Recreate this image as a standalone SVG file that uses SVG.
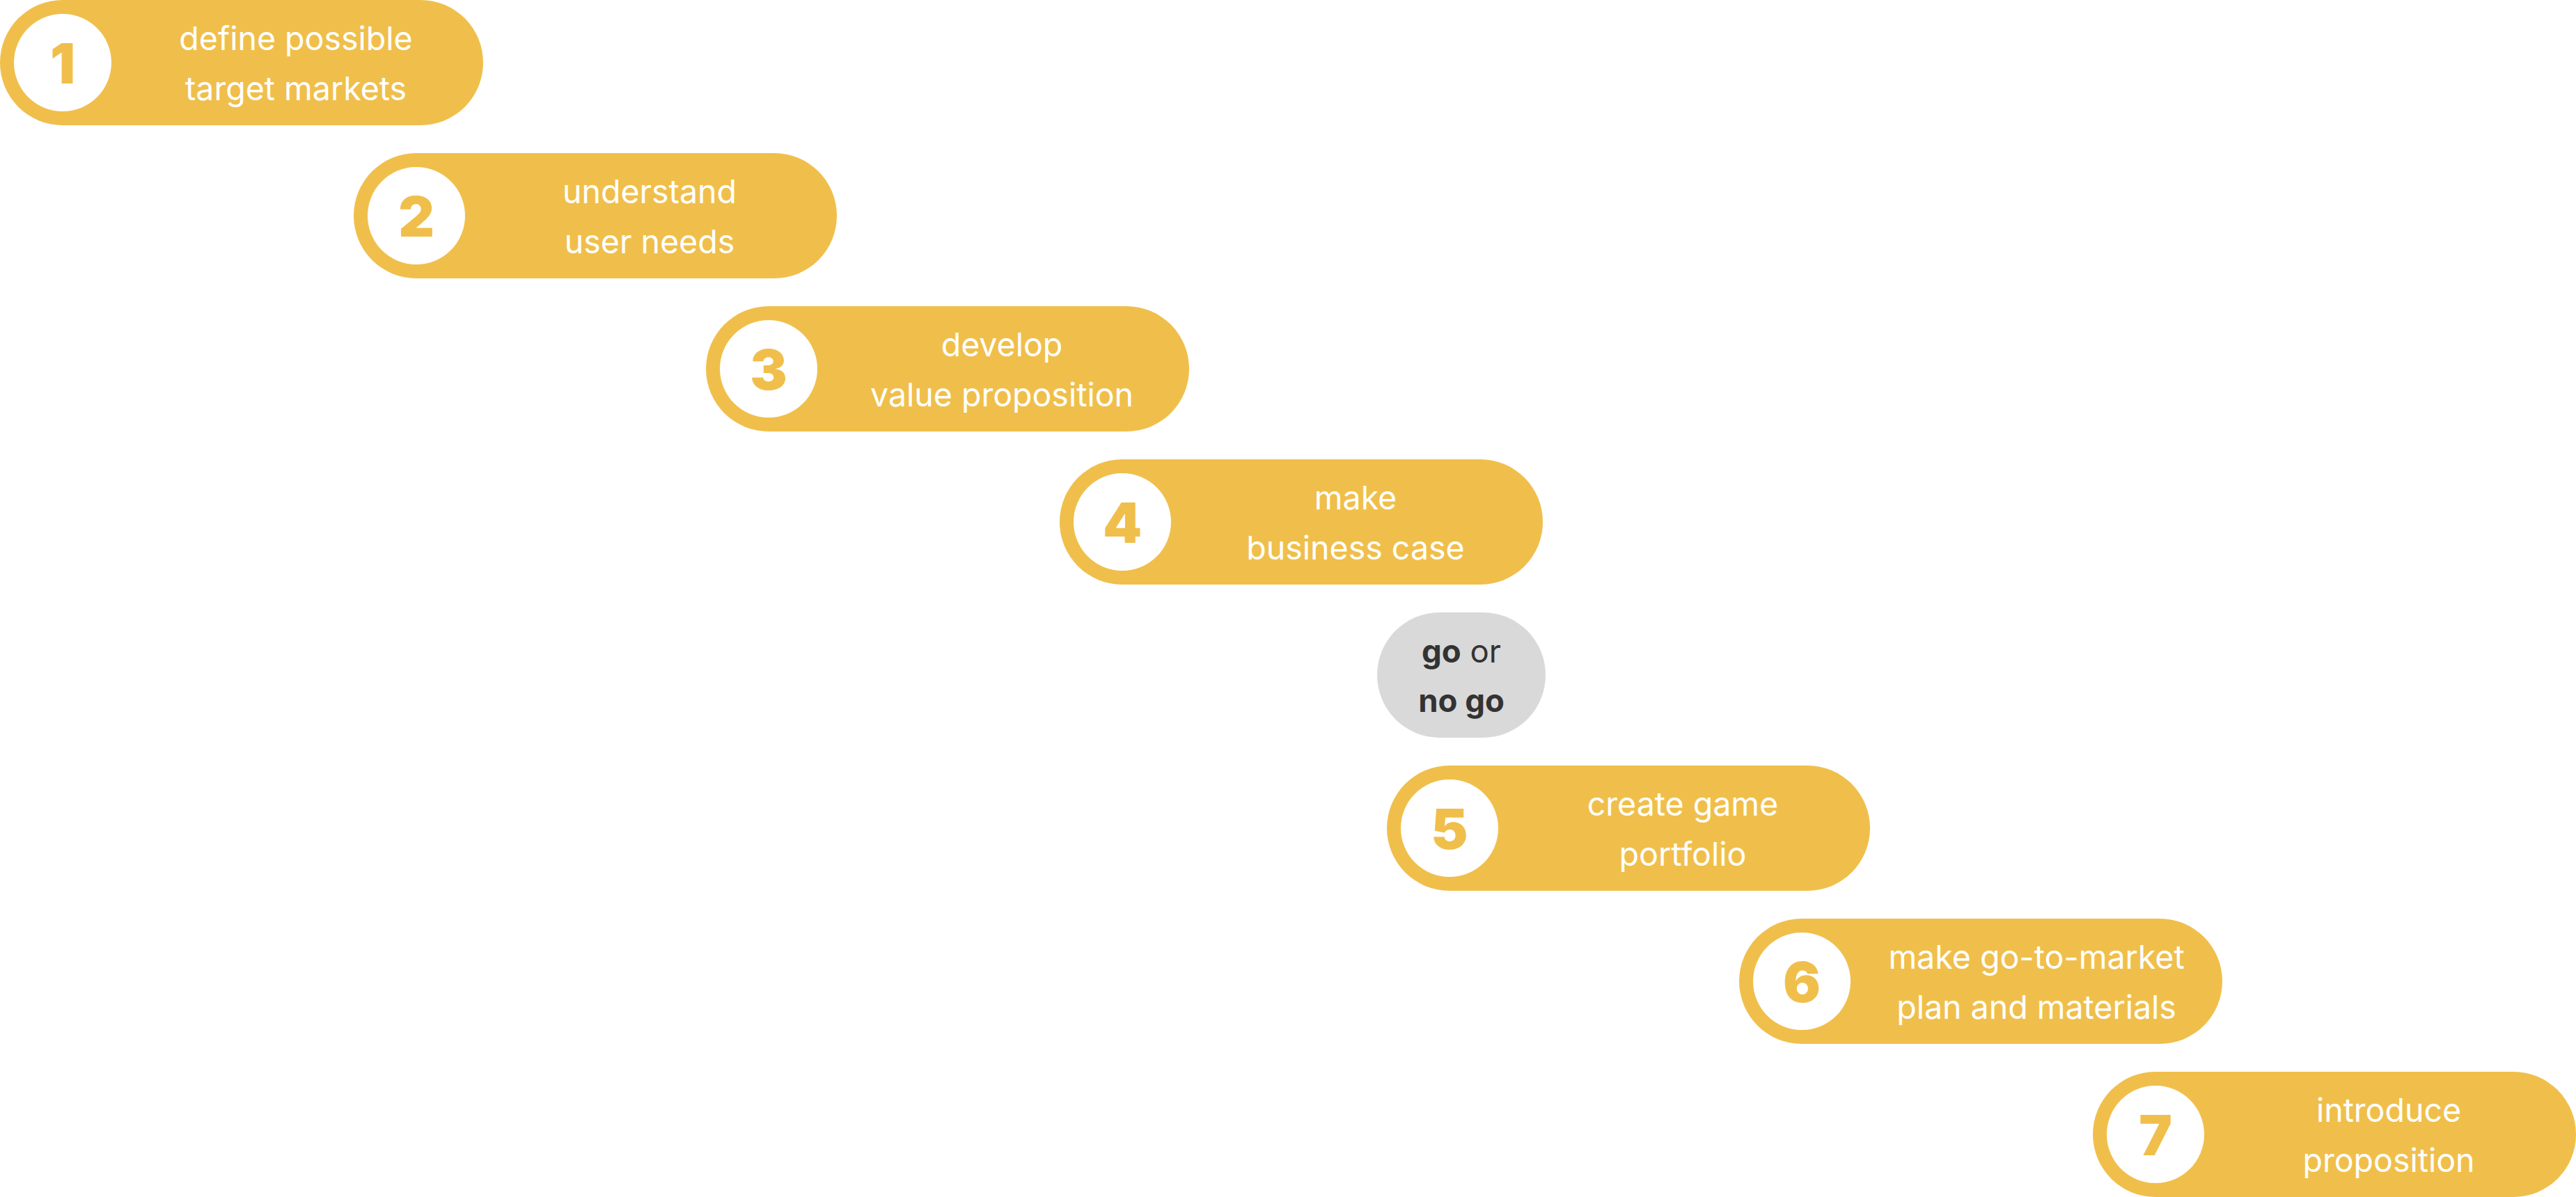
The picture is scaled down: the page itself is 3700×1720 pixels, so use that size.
<svg xmlns="http://www.w3.org/2000/svg" width="3700" height="1720" viewBox="0 0 3700 1720">
<defs>
<style>
.pill{fill:#F0BF4B}
.disc{fill:#FFFFFF}
.num{font-family:Inter,"Liberation Sans",sans-serif;font-weight:900;font-size:80px;fill:#F0BF4B;text-anchor:middle}
.lbl{font-family:Inter,"Liberation Sans",sans-serif;font-weight:400;font-size:46.5px;fill:#FFFFFF;text-anchor:middle}
.gate{fill:#D9D9D9}
.gtxt{font-family:Inter,"Liberation Sans",sans-serif;font-size:45.5px;fill:#333333;text-anchor:middle}
.b{font-weight:700}
</style>
</defs>
<rect width="3700" height="1720" fill="#FFFFFF"/>
<g id="connectors"></g>
<g id="node1" transform="translate(0,0)">
<rect class="pill" x="0" y="0" width="694" height="180" rx="90"/>
<circle class="disc" cx="90" cy="90" r="70"/>
<text class="num" x="90" y="120">1</text>
<text class="lbl" x="425" y="72">define possible</text>
<text class="lbl" x="425" y="144">target markets</text>
</g>
<g id="node2" transform="translate(508,220)">
<rect class="pill" x="0" y="0" width="694" height="180" rx="90"/>
<circle class="disc" cx="90" cy="90" r="70"/>
<text class="num" x="90" y="120">2</text>
<text class="lbl" x="425" y="72">understand</text>
<text class="lbl" x="425" y="144">user needs</text>
</g>
<g id="node3" transform="translate(1014,440)">
<rect class="pill" x="0" y="0" width="694" height="180" rx="90"/>
<circle class="disc" cx="90" cy="90" r="70"/>
<text class="num" x="90" y="120">3</text>
<text class="lbl" x="425" y="72">develop</text>
<text class="lbl" x="425" y="144">value proposition</text>
</g>
<g id="node4" transform="translate(1522,660)">
<rect class="pill" x="0" y="0" width="694" height="180" rx="90"/>
<circle class="disc" cx="90" cy="90" r="70"/>
<text class="num" x="90" y="120">4</text>
<text class="lbl" x="425" y="72">make</text>
<text class="lbl" x="425" y="144">business case</text>
</g>
<g id="gate" transform="translate(1978,880)">
<rect class="gate" x="0" y="0" width="242" height="180" rx="90"/>
<text class="gtxt" x="121" y="72"><tspan class="b">go</tspan> or</text>
<text class="gtxt b" x="121" y="143">no go</text>
</g>
<g id="node5" transform="translate(1992,1100)">
<rect class="pill" x="0" y="0" width="694" height="180" rx="90"/>
<circle class="disc" cx="90" cy="90" r="70"/>
<text class="num" x="90" y="120">5</text>
<text class="lbl" x="425" y="72">create game</text>
<text class="lbl" x="425" y="144">portfolio</text>
</g>
<g id="node6" transform="translate(2498,1320)">
<rect class="pill" x="0" y="0" width="694" height="180" rx="90"/>
<circle class="disc" cx="90" cy="90" r="70"/>
<text class="num" x="90" y="120">6</text>
<text class="lbl" x="427" y="72">make go-to-market</text>
<text class="lbl" x="427" y="144">plan and materials</text>
</g>
<g id="node7" transform="translate(3006,1540)">
<rect class="pill" x="0" y="0" width="694" height="180" rx="90"/>
<circle class="disc" cx="90" cy="90" r="70"/>
<text class="num" x="90" y="120">7</text>
<text class="lbl" x="425" y="72">introduce</text>
<text class="lbl" x="425" y="144">proposition</text>
</g>
</svg>
